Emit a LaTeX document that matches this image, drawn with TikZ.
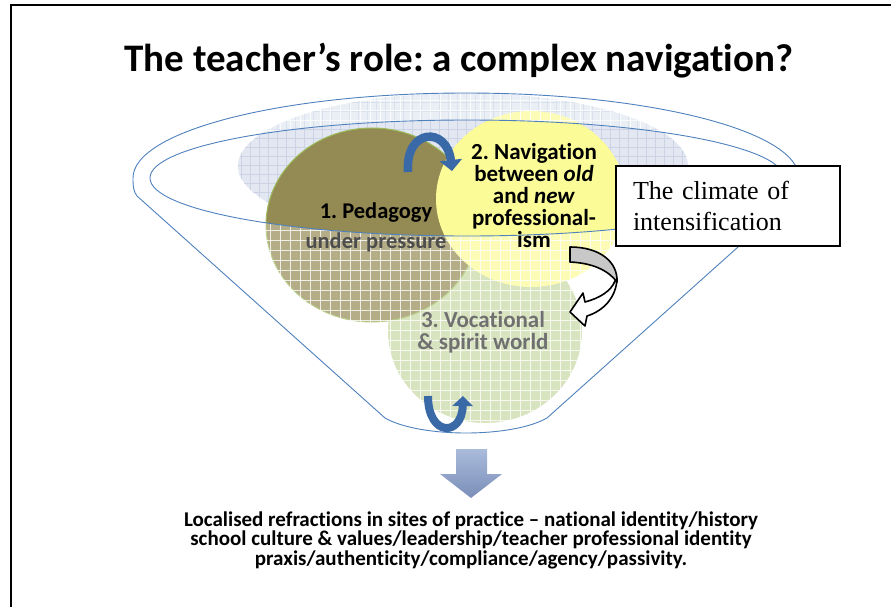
\documentclass[tikz,border=0pt]{standalone}
\usepackage{fontspec}
\setmainfont{Carlito}[Ligatures=NoCommon]
\newfontfamily\boxfont{Liberation Serif}
\usetikzlibrary{arrows.meta}
\frenchspacing
\definecolor{funnelline}{HTML}{4F81BD}
\definecolor{bluefill}{HTML}{E2E7F1}
\definecolor{bluegrid}{HTML}{CBD3E4}
\definecolor{olivefill}{HTML}{948A54}
\definecolor{oliveedge}{HTML}{9BBB59}
\definecolor{yellowfill}{HTML}{FBFB97}
\definecolor{greenfill}{HTML}{C8D8A4}
\definecolor{arrowblue}{HTML}{3A69A8}
\definecolor{downtop}{HTML}{AABBDB}
\definecolor{downbot}{HTML}{7A8EB8}
\definecolor{ribbongray}{HTML}{C8C8C8}
\tikzset{
  lbl/.style={font=\fontsize{23}{22}\selectfont\bfseries, align=center, inner sep=0pt},
  funnelstroke/.style={draw=funnelline, line width=0.9pt},
  blockarrow/.style={draw=black, line width=1.6pt, line join=round},
  curvedarrow/.style={arrowblue, line width=8.5pt},
  veilgrid/.style={white, line width=0.6pt, opacity=0.8}
}
\begin{document}
\begin{tikzpicture}[x=1pt,y=-1pt]
\useasboundingbox (0,0) rectangle (891,607);
% frame
\draw[line width=2pt] (11,640) -- (11,5) -- (920,5);
% title
\node[font=\fontsize{39}{44}\selectfont\bfseries, inner sep=0pt] (title) at (459,61) {The teacher’s role: a complex navigation?};
% blue background ellipse with grid
\begin{scope}
  \clip (463,166) ellipse [x radius=225, y radius=73];
  \fill[bluefill] (230,90) rectangle (700,245);
  \foreach \gx in {232,241,...,700} \draw[bluegrid, line width=0.5pt] (\gx,90) -- (\gx,245);
  \foreach \gy in {93,102,...,245} \draw[bluegrid, line width=0.5pt] (230,\gy) -- (700,\gy);
\end{scope}
% circles
\fill[greenfill] (485,331) ellipse [x radius=97, y radius=92];
\filldraw[fill=olivefill, draw=oliveedge, line width=1pt] (372,225) ellipse [x radius=106, y radius=97];
\fill[yellowfill] (531,199) ellipse [x radius=95, y radius=88];
% funnel body: white grid, labels beneath, white veil
\def\funnelpath{(133,178) arc[start angle=180, end angle=360, x radius=333, y radius=85]
   .. controls (799,188) and (798,192) .. (795,196) -- (547,418)
   .. controls (512,438) and (420,438) .. (385,418) -- (137,196)
   .. controls (134,192) and (133,188) .. (133,178) -- cycle}
\def\mouthpath{(467,178) ellipse [x radius=317, y radius=58]}
\begin{scope}[even odd rule]
  \clip \funnelpath \mouthpath;
  \foreach \gx in {120,130,...,810} \draw[veilgrid] (\gx,80) -- (\gx,440);
  \foreach \gy in {80,90,...,440} \draw[veilgrid] (120,\gy) -- (810,\gy);
\end{scope}
\node[lbl, font=\fontsize{22.5}{30}\selectfont\bfseries] (lab1) at (376,227) {1. Pedagogy\\under pressure};
\node[lbl, text=black!80] (lab3) at (483,332) {3. Vocational\\\& spirit world};
\fill[white, opacity=0.3, even odd rule] \funnelpath \mouthpath;
\draw[funnelstroke] \funnelpath;
\draw[funnelstroke] \mouthpath;
% label 2
\node[lbl] (lab2) at (534,196) {2. Navigation\\between \textit{old}\\and \textit{new}\\professional-\\ism};
% top curved arrow
\coordinate (ta) at (408,172);
\coordinate (tb) at (452,171);
\draw[curvedarrow, -{Triangle[width=22pt,length=11pt]}] (ta) .. controls (405,128) and (447,126) .. (tb);
% bottom U-turn arrow
\coordinate (ua) at (428,396);
\coordinate (ub) at (463,396);
\draw[curvedarrow, line width=8pt, -{Triangle[width=20pt,length=10pt]}] (ua) .. controls (428,437) and (462,437) .. (ub);
% climate box
\node[draw, line width=1.6pt, fill=white, minimum width=224pt, minimum height=80pt,
      text width=190pt, align=left, inner xsep=17pt, inner ysep=0pt,
      font=\boxfont\fontsize{26}{31}\selectfont] (climate) at (728,206) {The climate of\\intensification};
% ribbon arrow (back face then front face)
\filldraw[blockarrow, fill=ribbongray] (570,247) .. controls (600,247) and (618,262) .. (617,282)
   .. controls (608,270) and (592,263) .. (570,262) -- cycle;
\filldraw[blockarrow, fill=white] (617,279) .. controls (616,298) and (603,311) .. (587,316)
   -- (585,326) -- (570,312) -- (583,293) -- (585,302)
   .. controls (600,298) and (611,291) .. (615,281) -- cycle;
% down block arrow
\shade[top color=downtop, bottom color=downbot] (456,449) -- (487,449) -- (487,474) -- (502,474)
   -- (471,498) -- (440,474) -- (456,474) -- cycle;
\node[coordinate] (downtip) at (471,498) {};
% bottom text
\node[font=\fontsize{21}{19.5}\selectfont\bfseries, align=center, inner sep=0pt] (bottom) at (471,540)
  {Localised refractions in sites of practice – national identity/history\\school culture \& values/leadership/teacher professional identity\\praxis/authenticity/compliance/agency/passivity.};
\end{tikzpicture}
\end{document}
